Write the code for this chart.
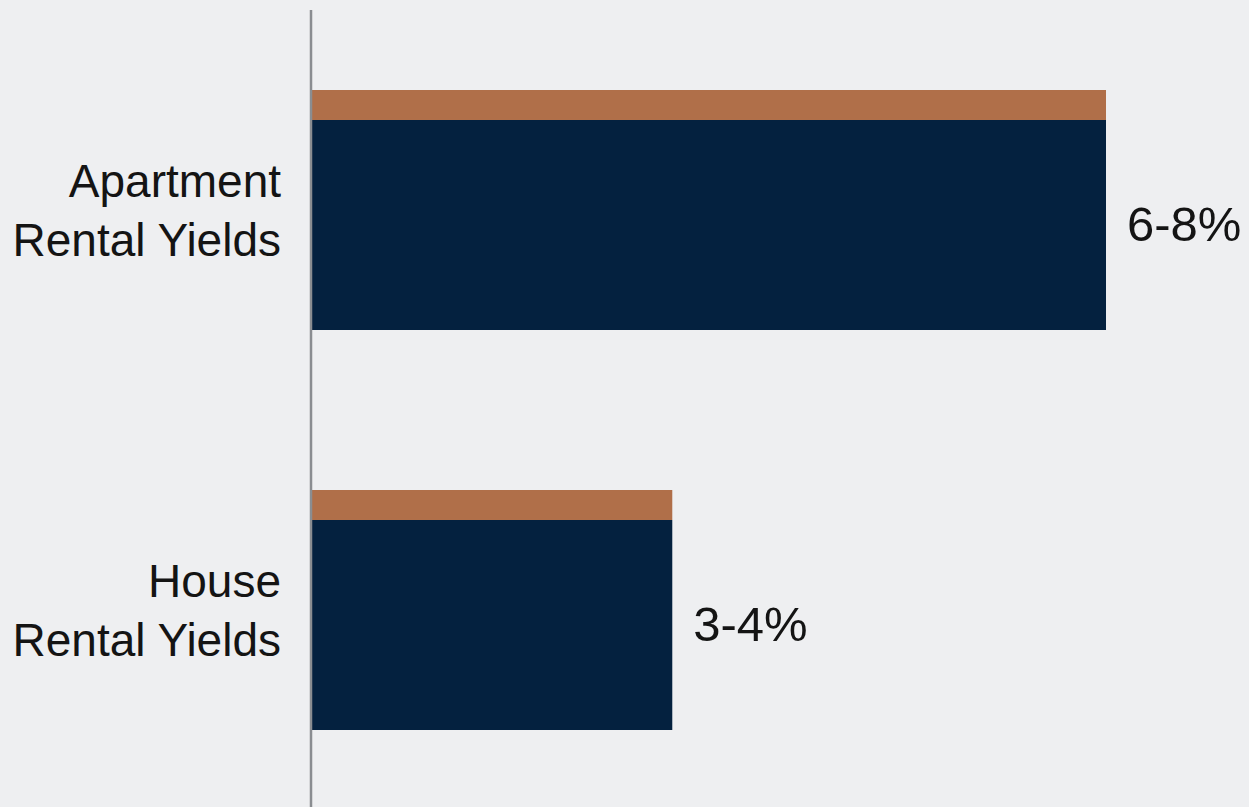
<!DOCTYPE html>
<html>
<head>
<meta charset="utf-8">
<script src="https://cdn.jsdelivr.net/npm/d3@7"></script>
<style>
  html, body { margin: 0; padding: 0; background: #eeeff1; }
  svg { display: block; }
</style>
</head>
<body>
<div id="chart"></div>
<script>
const categories = ["Apartment|Rental Yields", "House|Rental Yields"]
const barValues = [8, 3.63]
const valueLabels = ["6-8%", "3-4%"]

const width = 1249
const height = 807
const margin = { top: 10, right: 143, bottom: -3, left: 312 }

const navy = "#04213f"
const orange = "#b06f49"
const textColor = "#141414"

const data = categories.map((c, i) => ({
  lines: c.split("|"),
  value: barValues[i],
  label: valueLabels[i],
}))

const x = d3
  .scaleLinear()
  .domain([0, 8])
  .range([margin.left, width - margin.right])

const y = d3
  .scaleBand()
  .domain(categories)
  .range([margin.top, height - margin.bottom])
  .paddingInner(0.4)
  .paddingOuter(0.2)

const svg = d3
  .select("#chart")
  .append("svg")
  .attr("width", width)
  .attr("height", height)
  .style("background", "#eeeff1")
  .style("font-family", "'Liberation Sans', Arial, Helvetica, sans-serif")

const bw = y.bandwidth()
const stripH = bw * 0.125

const groups = svg
  .selectAll(".bar")
  .data(data)
  .enter()
  .append("g")
  .attr("class", "bar")

// navy body
groups
  .append("rect")
  .attr("x", x(0))
  .attr("y", (d, i) => y(categories[i]) + stripH)
  .attr("width", (d) => x(d.value) - x(0))
  .attr("height", bw - stripH)
  .attr("fill", navy)

// orange top strip
groups
  .append("rect")
  .attr("x", x(0))
  .attr("y", (d, i) => y(categories[i]))
  .attr("width", (d) => x(d.value) - x(0))
  .attr("height", stripH)
  .attr("fill", orange)

// value labels
groups
  .append("text")
  .attr("x", (d) => x(d.value) + 21)
  .attr("y", (d, i) => y(categories[i]) + stripH + (bw - stripH) / 2 + 16)
  .attr("font-size", "49px")
  .attr("fill", textColor)
  .text((d) => d.label)

// category labels, two lines, right aligned
const lineGap = 59
groups
  .append("text")
  .attr("text-anchor", "end")
  .attr("font-size", "46px")
  .attr("fill", textColor)
  .attr("transform", (d, i) => `translate(281,${y(categories[i]) + bw / 2})`)
  .selectAll("tspan")
  .data((d) => d.lines)
  .enter()
  .append("tspan")
  .attr("x", 0)
  .attr("y", (d, i) => (i === 0 ? -13 : -13 + lineGap))
  .text((d) => d)

// vertical axis line
svg
  .append("line")
  .attr("x1", x(0) - 1)
  .attr("x2", x(0) - 1)
  .attr("y1", margin.top)
  .attr("y2", height)
  .attr("stroke", "#8a8d91")
  .attr("stroke-width", 2.5)
</script>
</body>
</html>
